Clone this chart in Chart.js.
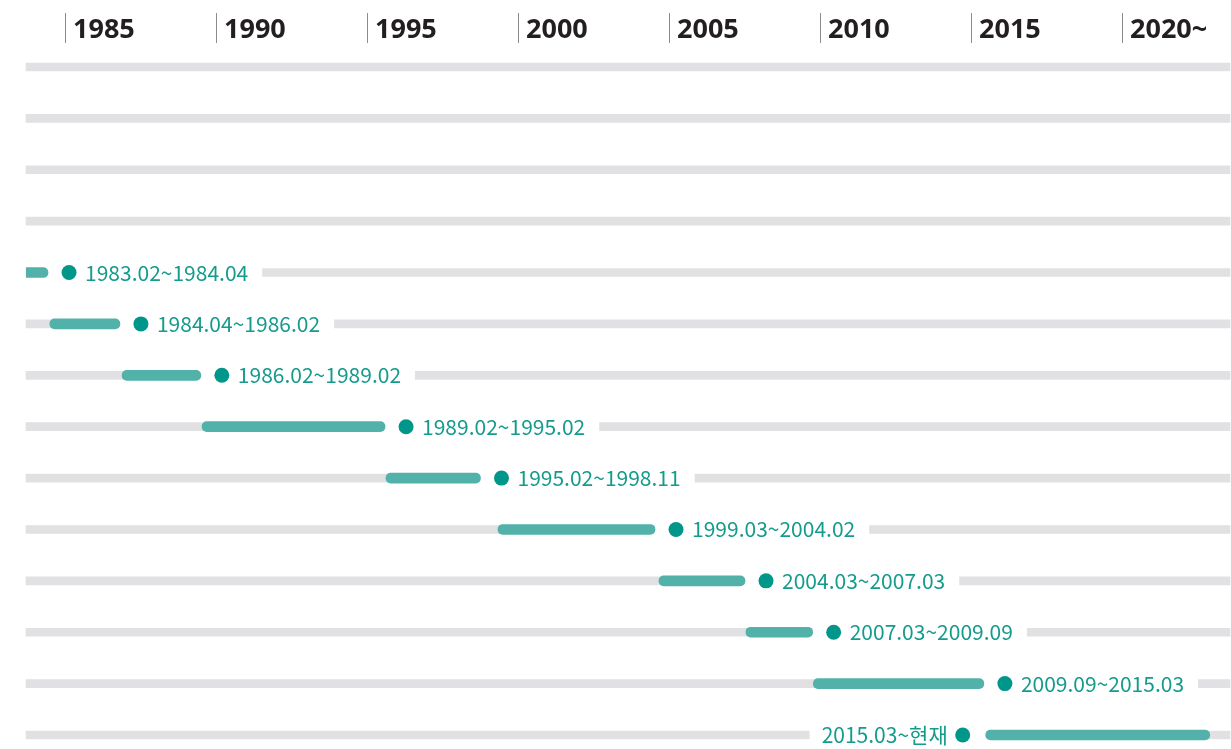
<!DOCTYPE html>
<html><head><meta charset="utf-8">
<script src="https://cdn.jsdelivr.net/npm/chart.js@4/dist/chart.umd.min.js"></script>
<style>html,body{margin:0;padding:0;background:#fff;overflow:hidden}</style>
</head><body><canvas id="c" width="1231" height="749"></canvas>
<script>
// ---- data ----
const rows = ['r1','r2','r3','r4','r5','r6','r7','r8','r9','r10','r11','r12','r13','r14'];
const periodLabels = [null,null,null,null,'1983.02~1984.04','1984.04~1986.02','1986.02~1989.02','1989.02~1995.02','1995.02~1998.11','1999.03~2004.02','2004.03~2007.03','2007.03~2009.09','2009.09~2015.03','2015.03~현재'];
const labelSide = [null,null,null,null,'right','right','right','right','right','right','right','right','right','left'];
const barStart = [null,null,null,null,1983.17,1984.50,1986.89,1989.54,1995.63,1999.34,2004.67,2007.55,2009.78,2015.49];
const barEnd   = [null,null,null,null,1984.44,1986.82,1989.50,1995.60,1998.76,2004.54,2007.52,2009.76,2015.43,2022.91];
const yearTicks = [1985,1990,1995,2000,2005,2010,2015,2020];
const yearTickLabels = ['1985','1990','1995','2000','2005','2010','2015','2020~'];
const X_MIN = 1983.71, X_MAX = 2023.58;

const LABEL_FONT = '400 21px "Noto Sans CJK KR", "Noto Sans", sans-serif';
const HEAD_FONT = '700 27px "Noto Sans", sans-serif';

function labelGeom(chart, ctx, i){
  const xs = chart.scales.x, ys = chart.scales.y;
  const y = ys.getPixelForValue(i);
  ctx.font = LABEL_FONT;
  const w = ctx.measureText(periodLabels[i]).width;
  if (labelSide[i] === 'right'){
    const e = xs.getPixelForValue(barEnd[i]);
    const dotX = e + 21, textX = dotX + 16;
    return {y, dotX, textX, align:'left', boxL: e - 5, boxR: textX + w + 14};
  } else {
    const s = xs.getPixelForValue(barStart[i]);
    const dotX = s - 23, textR = dotX - 15;
    return {y, dotX, textX: textR, align:'right', boxL: textR - w - 12, boxR: s + 5};
  }
}

const timelinePlugin = {
  id: 'timeline',
  beforeDatasetDraw(chart, args){
    if (args.index !== 0) return;
    const ctx = chart.ctx;
    ctx.save();
    periodLabels.forEach((lab, i) => {
      if (!lab) return;
      const g = labelGeom(chart, ctx, i);
      ctx.fillStyle = '#ffffff';
      ctx.fillRect(g.boxL, g.y - 6, g.boxR - g.boxL, 12);
    });
    ctx.restore();
  },
  afterDatasetsDraw(chart){
    const ctx = chart.ctx;
    const xs = chart.scales.x;
    ctx.save();
    periodLabels.forEach((lab, i) => {
      if (!lab) return;
      const g = labelGeom(chart, ctx, i);
      ctx.fillStyle = '#00978a';
      ctx.beginPath(); ctx.arc(g.dotX, g.y, 7.5, 0, Math.PI*2); ctx.fill();
      ctx.font = LABEL_FONT;
      ctx.fillStyle = '#149b8c';
      ctx.textAlign = g.align;
      ctx.textBaseline = 'alphabetic';
      ctx.fillText(lab, g.textX, g.y + 8);
    });
    // header ticks
    yearTicks.forEach((t, k) => {
      const px = Math.round(xs.getPixelForValue(t)) + 0.5;
      ctx.strokeStyle = '#8c8c8c'; ctx.lineWidth = 1;
      ctx.beginPath(); ctx.moveTo(px, 13); ctx.lineTo(px, 43); ctx.stroke();
      ctx.font = HEAD_FONT; ctx.fillStyle = '#231f20';
      ctx.textAlign = 'left'; ctx.textBaseline = 'alphabetic';
      ctx.fillText(yearTickLabels[k], px + 7.5, 37.5);
    });
    ctx.restore();
  }
};

new Chart(document.getElementById('c'), {
  type: 'bar',
  data: {
    labels: rows,
    datasets: [
      {
        label: 'period',
        data: rows.map((_, i) => barStart[i] == null ? null : [barStart[i], barEnd[i]]),
        backgroundColor: '#52b2aa',
        barThickness: 10,
        borderRadius: 5,
        borderSkipped: false,
        grouped: false,
        clip: {left: 0, top: false, right: false, bottom: false}
      },
      {
        label: 'track',
        data: rows.map(() => [X_MIN, X_MAX]),
        backgroundColor: '#e1e1e3',
        barThickness: 8,
        borderRadius: 0,
        borderSkipped: false,
        grouped: false,
        clip: false
      }
    ]
  },
  options: {
    indexAxis: 'y',
    responsive: false,
    animation: false,
    layout: {padding: {left: 26, right: 1, top: 67, bottom: 14}},
    plugins: {legend: {display: false}, tooltip: {enabled: false}},
    scales: {
      x: {type: 'linear', min: X_MIN, max: X_MAX, display: false},
      y: {type: 'category', offset: false, display: false}
    }
  },
  plugins: [timelinePlugin]
});
</script>
</body></html>
